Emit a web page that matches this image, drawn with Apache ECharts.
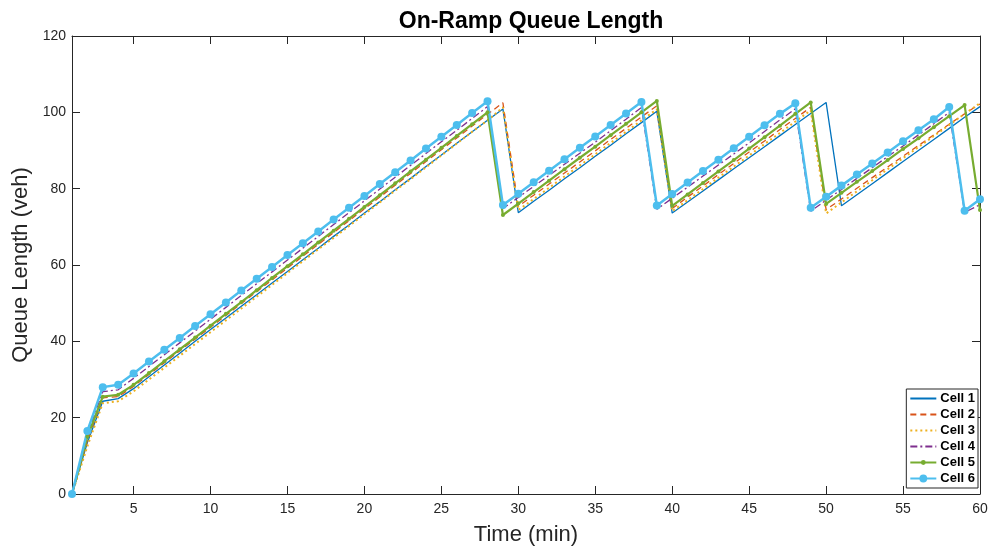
<!DOCTYPE html>
<html lang="en">
<head>
    <meta charset="utf-8">
    <title>On-Ramp Queue Length</title>
    <script src="https://cdn.jsdelivr.net/npm/echarts@6/dist/echarts.min.js"></script>
    <style>
        html, body {
            margin: 0;
            padding: 0;
            background: #ffffff;
        }
        #chart {
            width: 992px;
            height: 552px;
        }
    </style>
</head>
<body>
    <div id="chart"></div>
    <script>
        // time (min)
        var timeMin = [1, 2, 3, 4, 5, 6, 7, 8, 9, 10, 11, 12, 13, 14, 15, 16, 17, 18, 19, 20,
            21, 22, 23, 24, 25, 26, 27, 28, 29, 30, 31, 32, 33, 34, 35, 36, 37, 38, 39, 40,
            41, 42, 43, 44, 45, 46, 47, 48, 49, 50, 51, 52, 53, 54, 55, 56, 57, 58, 59, 60];

        var xTicks = [5, 10, 15, 20, 25, 30, 35, 40, 45, 50, 55, 60];

        // queue length (veh) per cell
        var cell1 = [0, 13.5, 24.3, 25.0, 27.6, 30.7, 33.8, 36.9, 40.0, 43.1,
            46.1, 49.2, 52.2, 55.3, 58.3, 61.4, 64.4, 67.5, 70.5, 73.6,
            76.6, 79.7, 82.7, 85.8, 88.8, 91.9, 94.9, 97.9, 100.9, 73.7,
            76.7, 79.6, 82.6, 85.5, 88.5, 91.4, 94.4, 97.3, 100.3, 73.6,
            76.5, 79.4, 82.3, 85.2, 88.1, 91.0, 93.9, 96.8, 99.7, 102.6,
            75.5, 78.4, 81.3, 84.2, 87.1, 90.0, 92.9, 95.8, 98.7, 101.5];

        var cell2 = [0, 14.0, 25.2, 25.5, 28.2, 31.3, 34.4, 37.5, 40.6, 43.7,
            46.8, 49.9, 53.0, 56.1, 59.2, 62.3, 65.4, 68.5, 71.6, 74.7,
            77.8, 80.9, 84.0, 87.1, 90.2, 93.3, 96.4, 99.5, 102.5, 75.4,
            78.3, 81.2, 84.1, 87.0, 89.9, 92.9, 95.8, 98.8, 101.7, 74.8,
            77.8, 80.7, 83.7, 86.6, 89.6, 92.5, 95.5, 98.4, 101.3, 74.5,
            77.3, 80.1, 82.9, 85.7, 88.5, 91.3, 94.1, 96.9, 99.6, 102.2];

        var cell3 = [0, 12.5, 23.8, 24.3, 26.9, 30.0, 33.1, 36.2, 39.3, 42.4,
            45.5, 48.6, 51.7, 54.8, 57.9, 61.0, 64.1, 67.1, 70.2, 73.3,
            76.4, 79.5, 82.5, 85.6, 88.7, 91.8, 94.9, 97.9, 101.3, 74.4,
            77.3, 80.2, 83.2, 86.1, 89.0, 92.0, 94.9, 97.9, 100.8, 74.1,
            77.0, 79.9, 82.9, 85.8, 88.7, 91.7, 94.6, 97.6, 100.5, 73.5,
            76.4, 79.3, 82.2, 85.1, 88.0, 90.9, 93.8, 96.7, 99.6, 102.4];

        var cell4 = [0, 15.6, 26.8, 27.3, 30.3, 33.4, 36.5, 39.6, 42.7, 45.8,
            48.9, 52.0, 55.1, 58.2, 61.3, 64.4, 67.5, 70.6, 73.7, 76.8,
            79.9, 83.0, 86.1, 89.2, 92.3, 95.3, 98.4, 101.5, 74.8, 77.7,
            80.6, 83.5, 86.4, 89.3, 92.2, 95.2, 98.2, 101.3, 74.6, 77.5,
            80.4, 83.3, 86.2, 89.1, 92.0, 95.0, 98.0, 100.9, 74.1, 77.0,
            79.8, 82.7, 85.5, 88.4, 91.2, 94.1, 97.0, 100.0, 73.8, 75.8];

        var cell5 = [0, 15.0, 25.5, 26.0, 28.6, 31.7, 34.8, 37.9, 41.0, 44.1,
            47.2, 50.3, 53.4, 56.6, 59.7, 62.8, 65.9, 69.0, 72.1, 75.2,
            78.3, 81.4, 84.5, 87.6, 90.7, 93.8, 96.9, 100.0, 73.1, 76.1,
            79.1, 82.1, 85.1, 88.1, 91.0, 94.0, 97.0, 100.0, 103.0, 75.5,
            78.5, 81.5, 84.5, 87.5, 90.5, 93.5, 96.5, 99.6, 102.6, 76.0,
            78.9, 81.8, 84.6, 87.5, 90.4, 93.2, 96.1, 99.0, 101.9, 74.4];

        var cell6 = [0, 16.5, 28.0, 28.6, 31.6, 34.7, 37.8, 40.9, 44.0, 47.1,
            50.2, 53.3, 56.4, 59.5, 62.6, 65.7, 68.8, 71.9, 75.0, 78.1,
            81.2, 84.3, 87.4, 90.5, 93.6, 96.7, 99.8, 102.9, 75.7, 78.7,
            81.7, 84.7, 87.7, 90.7, 93.7, 96.7, 99.7, 102.7, 75.6, 78.6,
            81.6, 84.6, 87.6, 90.6, 93.6, 96.6, 99.6, 102.4, 75.0, 77.9,
            80.8, 83.7, 86.6, 89.5, 92.4, 95.3, 98.2, 101.4, 74.2, 77.2];

        function pairs(ys) {
            var out = [];
            for (var i = 0; i < timeMin.length; i++) {
                out.push([timeMin[i], ys[i]]);
            }
            return out;
        }

        var axisColor = '#262626';
        var font = 'Liberation Sans, Arial, Helvetica, sans-serif';

        var chart = echarts.init(document.getElementById('chart'));

        // no marker in the legend for the plain line cells
        var noMarker = { opacity: 0 };

        var option = {
            animation: false,
            backgroundColor: '#ffffff',
            textStyle: { fontFamily: font },
            title: {
                text: 'On-Ramp Queue Length',
                left: 526,
                top: 5,
                textAlign: 'center',
                textStyle: {
                    fontFamily: font,
                    fontSize: 23,
                    fontWeight: 'bold',
                    color: '#000000'
                }
            },
            grid: {
                left: 72,
                right: 12,
                top: 36,
                bottom: 58,
                containLabel: false
            },
            legend: {
                orient: 'vertical',
                right: 14,
                bottom: 64,
                itemWidth: 26,
                itemHeight: 6,
                itemGap: 3,
                padding: [3, 3, 3, 3],
                borderColor: axisColor,
                borderWidth: 1,
                borderRadius: 0,
                backgroundColor: '#ffffff',
                textStyle: {
                    fontFamily: font,
                    fontSize: 13,
                    fontWeight: 'bold',
                    color: '#000000',
                    padding: [0, 0, 0, -1]
                },
                data: [
                    { name: 'Cell 1', itemStyle: noMarker },
                    { name: 'Cell 2', itemStyle: noMarker },
                    { name: 'Cell 3', itemStyle: noMarker },
                    { name: 'Cell 4', itemStyle: noMarker },
                    { name: 'Cell 5' },
                    { name: 'Cell 6', itemStyle: { borderColor: '#4DBEEE', borderWidth: 3 } }
                ]
            },
            xAxis: [
                {
                    type: 'value',
                    position: 'bottom',
                    min: 1,
                    max: 60,
                    name: 'Time (min)',
                    nameLocation: 'middle',
                    nameGap: 30,
                    nameTextStyle: { fontFamily: font, fontSize: 22, color: axisColor },
                    axisLine: { show: true, onZero: false, lineStyle: { color: axisColor, width: 1 } },
                    axisTick: { show: true, inside: true, length: 8, customValues: xTicks, lineStyle: { color: axisColor } },
                    axisLabel: { show: true, customValues: xTicks, fontFamily: font, fontSize: 14, color: axisColor, margin: 8 },
                    splitLine: { show: false }
                },
                {
                    type: 'value',
                    position: 'top',
                    min: 1,
                    max: 60,
                    axisLine: { show: true, onZero: false, lineStyle: { color: axisColor, width: 1 } },
                    axisTick: { show: true, inside: true, length: 8, customValues: xTicks, lineStyle: { color: axisColor } },
                    axisLabel: { show: false },
                    splitLine: { show: false }
                }
            ],
            yAxis: [
                {
                    type: 'value',
                    position: 'left',
                    min: 0,
                    max: 120,
                    interval: 20,
                    name: 'Queue Length (veh)',
                    nameLocation: 'middle',
                    nameGap: 36,
                    nameTextStyle: { fontFamily: font, fontSize: 22, color: axisColor },
                    axisLine: { show: true, onZero: false, lineStyle: { color: axisColor, width: 1 } },
                    axisTick: { show: true, inside: true, length: 8, lineStyle: { color: axisColor } },
                    axisLabel: { fontFamily: font, fontSize: 14, color: axisColor, margin: 6 },
                    splitLine: { show: false }
                },
                {
                    type: 'value',
                    position: 'right',
                    min: 0,
                    max: 120,
                    interval: 20,
                    axisLine: { show: true, onZero: false, lineStyle: { color: axisColor, width: 1 } },
                    axisTick: { show: true, inside: true, length: 8, lineStyle: { color: axisColor } },
                    axisLabel: { show: false },
                    splitLine: { show: false }
                }
            ],
            series: [
                {
                    name: 'Cell 1',
                    type: 'line',
                    data: pairs(cell1),
                    symbol: 'none',
                    color: '#0072BD',
                    lineStyle: { color: '#0072BD', width: 1.3 }
                },
                {
                    name: 'Cell 2',
                    type: 'line',
                    data: pairs(cell2),
                    symbol: 'none',
                    color: '#D95319',
                    lineStyle: { color: '#D95319', width: 1.3, type: [6, 4] }
                },
                {
                    name: 'Cell 3',
                    type: 'line',
                    data: pairs(cell3),
                    symbol: 'none',
                    color: '#EDB120',
                    lineStyle: { color: '#EDB120', width: 2, type: [2, 3] }
                },
                {
                    name: 'Cell 4',
                    type: 'line',
                    data: pairs(cell4),
                    symbol: 'none',
                    color: '#7E2F8E',
                    lineStyle: { color: '#7E2F8E', width: 1.3, type: [7, 3, 2, 3] }
                },
                {
                    name: 'Cell 5',
                    type: 'line',
                    data: pairs(cell5),
                    symbol: 'circle',
                    symbolSize: 4,
                    showAllSymbol: true,
                    color: '#77AC30',
                    itemStyle: { color: '#77AC30' },
                    lineStyle: { color: '#77AC30', width: 2.2 }
                },
                {
                    name: 'Cell 6',
                    type: 'line',
                    data: pairs(cell6),
                    symbol: 'circle',
                    symbolSize: 8,
                    showAllSymbol: true,
                    color: '#4DBEEE',
                    itemStyle: { color: '#4DBEEE' },
                    lineStyle: { color: '#4DBEEE', width: 2.5 }
                }
            ]
        };

        chart.setOption(option);
    </script>
</body>
</html>
